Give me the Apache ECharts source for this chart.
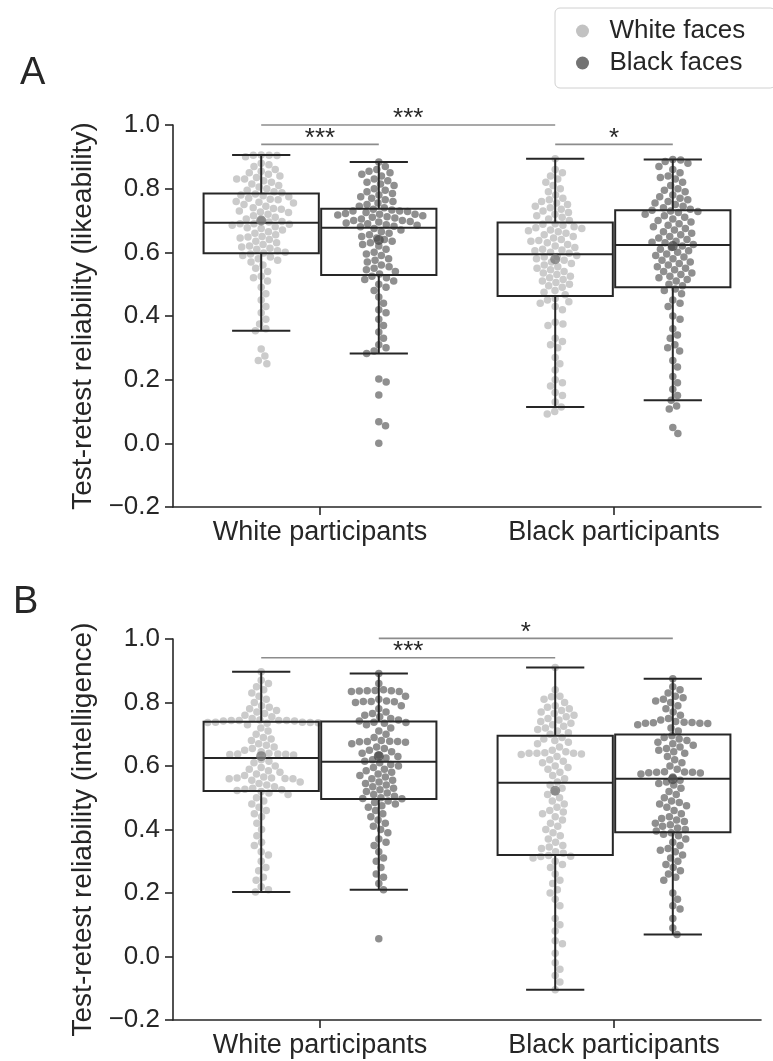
<!DOCTYPE html>
<html>
<head>
<meta charset="utf-8">
<title>Test-retest reliability</title>
<script src="https://cdn.jsdelivr.net/npm/echarts@6/dist/echarts.min.js"></script>
<style>
    html, body { margin: 0; padding: 0; background: #fff; }
    #chart { width: 773px; height: 1061px; }
</style>
</head>
<body>
<div id="chart"></div>
<script>
// Categories and hues
const categories = ['White participants', 'Black participants'];
const hues = ['White faces', 'Black faces'];

// Y axis range
const yMin = -0.2;
const yMax = 1.0;
const yStep = 0.2;

// Box stats [low whisker, q1, median, q3, high whisker]
// order: white part./white faces, white part./black faces, black part./white faces, black part./black faces
const boxLikeability = [
    [0.354, 0.597, 0.693, 0.785, 0.906],
    [0.282, 0.529, 0.677, 0.737, 0.884],
    [0.114, 0.463, 0.594, 0.694, 0.894],
    [0.135, 0.490, 0.623, 0.732, 0.892]
];
const meanLikeability = [0.700, 0.639, 0.578, 0.620];

const boxIntelligence = [
    [0.203, 0.521, 0.625, 0.739, 0.897],
    [0.210, 0.496, 0.613, 0.740, 0.891],
    [-0.105, 0.320, 0.547, 0.695, 0.910],
    [0.069, 0.391, 0.560, 0.699, 0.875]
];
const meanIntelligence = [0.631, 0.631, 0.522, 0.558];

// Significance brackets [from box, to box, height, label]
const bracketsLikeability = [[0, 2, 1.000, '***'], [0, 1, 0.939, '***'], [2, 3, 0.939, '*']];
const bracketsIntelligence = [[1, 3, 1.002, '*'], [0, 2, 0.941, '***']];

// Individual reliabilities
const likeWW = [0.906,0.905,0.905,0.904,0.90,0.88,0.875,0.87,0.86,0.855,0.85,0.845,0.84,0.835,0.83,0.83,0.825,0.82,0.815,0.81,0.805,0.80,0.795,0.79,0.787,
    0.783,0.78,0.778,0.775,0.77,0.767,0.765,0.76,0.757,0.755,0.75,0.745,0.74,0.738,0.735,0.73,0.727,0.725,0.72,0.715,0.71,0.705,0.70,0.697,0.695,
    0.69,0.69,0.688,0.685,0.68,0.677,0.675,0.67,0.665,0.66,0.655,0.65,0.648,0.645,0.64,0.635,0.63,0.625,0.62,0.617,0.613,0.61,0.605,0.60,0.598,
    0.595,0.59,0.585,0.58,0.575,0.57,0.56,0.55,0.54,0.525,0.52,0.51,0.49,0.47,0.45,0.43,0.41,0.39,0.375,0.36,0.354,0.296,0.274,0.26,0.25];
const likeWB = [0.884,0.87,0.86,0.855,0.85,0.845,0.84,0.83,0.825,0.82,0.815,0.81,0.80,0.795,0.79,0.785,0.78,0.775,0.77,0.765,0.76,0.755,0.75,0.745,0.74,
    0.735,0.733,0.73,0.73,0.728,0.725,0.722,0.72,0.72,0.717,0.715,0.712,0.71,0.708,0.705,0.70,0.70,0.697,0.695,0.692,0.69,0.687,0.685,0.682,0.68,
    0.675,0.67,0.665,0.66,0.655,0.65,0.645,0.64,0.635,0.63,0.625,0.62,0.61,0.60,0.595,0.59,0.58,0.575,0.57,0.56,0.555,0.55,0.545,0.54,0.532,
    0.525,0.52,0.515,0.51,0.50,0.49,0.48,0.46,0.44,0.42,0.41,0.39,0.37,0.35,0.33,0.31,0.30,0.29,0.282,0.202,0.193,0.152,0.068,0.055,0.0];
const likeBW = [0.894,0.86,0.85,0.84,0.83,0.82,0.81,0.80,0.79,0.78,0.77,0.765,0.76,0.755,0.75,0.745,0.74,0.735,0.73,0.725,0.72,0.715,0.71,0.705,0.70,
    0.69,0.688,0.685,0.68,0.677,0.675,0.67,0.668,0.665,0.66,0.655,0.65,0.645,0.64,0.637,0.635,0.63,0.625,0.62,0.615,0.61,0.607,0.605,0.60,0.597,
    0.59,0.587,0.585,0.58,0.575,0.57,0.565,0.56,0.555,0.55,0.545,0.54,0.535,0.53,0.525,0.52,0.515,0.51,0.505,0.50,0.495,0.49,0.48,0.475,0.467,
    0.455,0.45,0.445,0.44,0.43,0.42,0.38,0.375,0.37,0.33,0.32,0.31,0.30,0.27,0.25,0.23,0.20,0.19,0.18,0.16,0.15,0.13,0.114,0.10,0.092];
const likeBB = [0.892,0.89,0.885,0.88,0.87,0.86,0.85,0.84,0.835,0.83,0.82,0.81,0.80,0.795,0.79,0.78,0.775,0.77,0.765,0.76,0.755,0.75,0.745,0.74,0.735,
    0.732,0.73,0.728,0.725,0.72,0.715,0.71,0.705,0.70,0.695,0.69,0.685,0.68,0.675,0.67,0.665,0.66,0.655,0.65,0.645,0.64,0.635,0.632,0.63,0.625,
    0.62,0.615,0.61,0.605,0.60,0.595,0.59,0.585,0.58,0.575,0.57,0.565,0.56,0.555,0.55,0.545,0.54,0.535,0.53,0.525,0.52,0.515,0.51,0.50,0.495,
    0.485,0.48,0.47,0.45,0.44,0.43,0.40,0.39,0.36,0.34,0.33,0.31,0.30,0.29,0.26,0.24,0.21,0.19,0.17,0.15,0.135,0.117,0.108,0.05,0.031];

const intelWW = [0.897,0.87,0.86,0.85,0.84,0.83,0.82,0.81,0.80,0.79,0.785,0.78,0.775,0.77,0.765,0.76,0.755,0.75,0.745,0.743,0.743,0.743,0.743,0.742,0.742,
    0.738,0.738,0.737,0.737,0.736,0.735,0.73,0.72,0.71,0.70,0.69,0.685,0.68,0.67,0.665,0.66,0.655,0.65,0.645,0.64,0.638,0.638,0.637,0.636,0.635,
    0.62,0.615,0.61,0.60,0.595,0.59,0.585,0.58,0.575,0.57,0.565,0.562,0.562,0.561,0.56,0.56,0.555,0.55,0.545,0.54,0.535,0.53,0.527,0.525,0.523,
    0.52,0.515,0.51,0.50,0.49,0.48,0.47,0.46,0.45,0.44,0.42,0.40,0.38,0.36,0.35,0.33,0.32,0.30,0.28,0.27,0.25,0.24,0.22,0.21,0.203];
const intelWB = [0.891,0.86,0.84,0.838,0.837,0.837,0.836,0.835,0.835,0.82,0.81,0.805,0.803,0.803,0.802,0.80,0.79,0.78,0.77,0.765,0.76,0.755,0.75,0.745,0.742,
    0.738,0.737,0.735,0.73,0.72,0.71,0.70,0.69,0.68,0.678,0.677,0.677,0.676,0.675,0.67,0.66,0.655,0.65,0.645,0.64,0.635,0.63,0.625,0.62,0.615,
    0.61,0.605,0.60,0.595,0.59,0.585,0.58,0.575,0.57,0.565,0.56,0.555,0.55,0.545,0.54,0.535,0.53,0.525,0.52,0.515,0.51,0.505,0.50,0.498,0.497,
    0.49,0.485,0.48,0.475,0.47,0.46,0.45,0.44,0.43,0.42,0.41,0.40,0.39,0.37,0.36,0.35,0.33,0.31,0.30,0.28,0.26,0.25,0.23,0.21,0.056];
const intelBW = [0.91,0.84,0.82,0.818,0.81,0.80,0.79,0.785,0.78,0.775,0.77,0.765,0.76,0.755,0.75,0.745,0.74,0.735,0.73,0.725,0.72,0.715,0.71,0.705,0.70,
    0.69,0.685,0.68,0.675,0.67,0.66,0.65,0.645,0.642,0.64,0.64,0.64,0.638,0.636,0.63,0.62,0.615,0.61,0.60,0.595,0.59,0.58,0.57,0.56,0.55,
    0.54,0.53,0.52,0.51,0.50,0.49,0.48,0.47,0.46,0.455,0.45,0.44,0.43,0.42,0.41,0.40,0.39,0.38,0.37,0.36,0.35,0.345,0.34,0.33,0.325,
    0.318,0.316,0.315,0.31,0.30,0.29,0.28,0.26,0.24,0.23,0.21,0.20,0.18,0.16,0.12,0.10,0.08,0.05,0.04,0.01,-0.02,-0.04,-0.06,-0.08,-0.105];
const intelBB = [0.875,0.85,0.84,0.83,0.82,0.815,0.81,0.805,0.80,0.79,0.78,0.77,0.76,0.75,0.745,0.74,0.738,0.737,0.736,0.735,0.735,0.734,0.73,0.72,0.71,
    0.695,0.69,0.685,0.68,0.675,0.67,0.665,0.66,0.655,0.65,0.645,0.64,0.63,0.62,0.61,0.60,0.59,0.582,0.581,0.58,0.58,0.579,0.578,0.575,0.565,
    0.555,0.55,0.545,0.54,0.53,0.52,0.51,0.50,0.49,0.485,0.48,0.475,0.47,0.46,0.45,0.44,0.435,0.43,0.425,0.42,0.415,0.41,0.405,0.40,0.395,
    0.39,0.385,0.38,0.37,0.36,0.35,0.34,0.335,0.33,0.32,0.31,0.30,0.29,0.28,0.27,0.26,0.25,0.24,0.20,0.18,0.16,0.15,0.12,0.09,0.069];

// Styling
const FONT = '"Liberation Sans", Arial, sans-serif';
const INK = '#262626';
const DOT_COLORS = ['#cbcbcb', '#8f8f8f'];
const MEAN_COLORS = ['#7a7a7a', '#4d4d4d'];
const BOX_X = [-0.2, 0.2, 0.8, 1.2];   // dodge positions on the hidden value axis
const BOX_HALF = 0.196;
const CAP_HALF = 0.099;
const DOT_SIZE = 7.5;
const DOT_GAP = 7.9;

const panels = [
    { letter: 'A', title: 'Test-retest reliability (likeability)', top: 125, height: 382,
      box: boxLikeability, mean: meanLikeability, brackets: bracketsLikeability,
      points: [likeWW, likeWB, likeBW, likeBB] },
    { letter: 'B', title: 'Test-retest reliability (intelligence)', top: 639, height: 381,
      box: boxIntelligence, mean: meanIntelligence, brackets: bracketsIntelligence,
      points: [intelWW, intelWB, intelBW, intelBB] }
];

const chart = echarts.init(document.getElementById('chart'));

// Beeswarm placement: pixel offsets, closest to the centre without overlap
function swarmOffsets(yPx) {
    const order = yPx.map((y, i) => i).sort((a, b) => yPx[a] - yPx[b]);
    const placed = [];
    const out = new Array(yPx.length);
    order.forEach(i => {
        const y = yPx[i];
        const near = placed.filter(p => Math.abs(p.y - y) < DOT_GAP);
        const cands = [0];
        near.forEach(p => {
            const dx = Math.sqrt(DOT_GAP * DOT_GAP - (p.y - y) * (p.y - y));
            cands.push(p.x + dx, p.x - dx);
        });
        cands.sort((a, b) => Math.abs(a) - Math.abs(b));
        const best = cands.find(c => near.every(p =>
            (p.x - c) * (p.x - c) + (p.y - y) * (p.y - y) >= DOT_GAP * DOT_GAP - 1e-6));
        placed.push({ x: best, y: y });
        out[i] = best;
    });
    return out;
}

function tickLabel(v) {
    const s = (Math.abs(v) < 1e-9 ? 0 : v).toFixed(1);
    return s.replace('-', '\u2212');
}

function buildOption(swarm) {
    const grid = [], xAxis = [], yAxis = [], series = [];
    const axisLine = { show: true, onZero: false, lineStyle: { color: INK, width: 1.6 } };
    const axisTick = { show: true, length: 8, lineStyle: { color: INK, width: 1.6 } };

    panels.forEach((p, pi) => {
        grid.push({ left: 173, top: p.top, width: 588, height: p.height, outerBoundsMode: 'none' });
        xAxis.push({
            type: 'category', gridIndex: pi, data: categories, boundaryGap: true, position: 'bottom',
            axisLine: axisLine,
            axisTick: { show: true, alignWithLabel: true, length: 8, lineStyle: { color: INK, width: 1.6 } },
            axisLabel: { fontSize: 27, color: INK, margin: 12, fontFamily: FONT },
            splitLine: { show: false }
        });
        xAxis.push({ type: 'value', gridIndex: pi, min: -0.5, max: 1.5, show: false,
            axisLine: { show: false, onZero: false }, splitLine: { show: false } });
        yAxis.push({
            type: 'value', gridIndex: pi, min: yMin, max: yMax, interval: yStep, position: 'left',
            name: p.title, nameLocation: 'middle', nameGap: 71,
            nameTextStyle: { fontSize: 28, color: INK, fontFamily: FONT },
            axisLine: axisLine, axisTick: axisTick,
            axisLabel: { fontSize: 26, color: INK, margin: 13, fontFamily: FONT, formatter: tickLabel },
            splitLine: { show: false }
        });

        const xi = pi * 2 + 1;
        // swarm points, one series per hue
        hues.forEach((hue, h) => {
            const data = [];
            [h, h + 2].forEach(k => {
                p.points[k].forEach((v, i) => {
                    const off = swarm ? swarm[pi][k][i] : 0;
                    data.push([BOX_X[k] + off, v]);
                });
            });
            series.push({
                name: hue, type: 'scatter', xAxisIndex: xi, yAxisIndex: pi,
                symbol: 'circle', symbolSize: DOT_SIZE, data: data, z: 2,
                itemStyle: { color: DOT_COLORS[h], opacity: 1 },
                emphasis: { disabled: true }, silent: true, animation: false
            });
        });
        // boxes
        series.push({
            type: 'custom', xAxisIndex: xi, yAxisIndex: pi, z: 3, silent: true, animation: false,
            data: p.box.map((b, k) => [BOX_X[k]].concat(b)),
            encode: { x: 0, y: [1, 2, 3, 4, 5] },
            renderItem: function (params, api) {
                const x = api.value(0);
                const lo = api.coord([x, api.value(1)]);
                const q1 = api.coord([x, api.value(2)]);
                const md = api.coord([x, api.value(3)]);
                const q3 = api.coord([x, api.value(4)]);
                const hi = api.coord([x, api.value(5)]);
                const hb = api.size([BOX_HALF, 0])[0];
                const hc = api.size([CAP_HALF, 0])[0];
                const cx = lo[0];
                const st = { stroke: INK, lineWidth: 2, fill: 'none' };
                return {
                    type: 'group', children: [
                        { type: 'rect', shape: { x: cx - hb, y: q3[1], width: 2 * hb, height: q1[1] - q3[1] }, style: st },
                        { type: 'line', shape: { x1: cx - hb, y1: md[1], x2: cx + hb, y2: md[1] }, style: st },
                        { type: 'line', shape: { x1: cx, y1: q3[1], x2: cx, y2: hi[1] }, style: st },
                        { type: 'line', shape: { x1: cx, y1: q1[1], x2: cx, y2: lo[1] }, style: st },
                        { type: 'line', shape: { x1: cx - hc, y1: hi[1], x2: cx + hc, y2: hi[1] }, style: st },
                        { type: 'line', shape: { x1: cx - hc, y1: lo[1], x2: cx + hc, y2: lo[1] }, style: st }
                    ]
                };
            }
        });
        // means
        series.push({
            type: 'scatter', xAxisIndex: xi, yAxisIndex: pi, z: 4, symbolSize: 10,
            silent: true, animation: false,
            data: p.mean.map((m, k) => ({ value: [BOX_X[k], m], itemStyle: { color: MEAN_COLORS[k % 2] } }))
        });
        // significance brackets
        const br = p.brackets;
        series.push({
            type: 'custom', xAxisIndex: xi, yAxisIndex: pi, z: 3, silent: true, animation: false, clip: false,
            data: br.map(b => [BOX_X[b[0]], b[2], BOX_X[b[1]]]),
            encode: { x: [0, 2], y: 1 },
            renderItem: function (params, api) {
                const a = api.coord([api.value(0), api.value(1)]);
                const b = api.coord([api.value(2), api.value(1)]);
                return {
                    type: 'group', children: [
                        { type: 'line', shape: { x1: a[0], y1: a[1], x2: b[0], y2: b[1] },
                          style: { stroke: '#8c8c8c', lineWidth: 1.6 } },
                        { type: 'text', x: (a[0] + b[0]) / 2, y: a[1] - 6,
                          style: { text: br[params.dataIndex][3], fill: INK, fontSize: 26, fontFamily: FONT,
                                   align: 'center', verticalAlign: 'middle' } }
                    ]
                };
            }
        });
    });

    return {
        backgroundColor: '#ffffff',
        animation: false,
        textStyle: { fontFamily: FONT },
        grid: grid, xAxis: xAxis, yAxis: yAxis, series: series,
        legend: {
            orient: 'vertical', left: 555, top: 8, selectedMode: false,
            data: [
                { name: 'White faces', icon: 'circle', itemStyle: { color: '#c2c2c2' } },
                { name: 'Black faces', icon: 'circle', itemStyle: { color: '#737373' } }
            ],
            itemWidth: 44, itemHeight: 13, itemGap: 6,
            padding: [10, 30, 12, 21],
            borderColor: '#d0d0d0', borderWidth: 1, borderRadius: 5, backgroundColor: '#fff',
            textStyle: { fontSize: 26, color: INK, fontFamily: FONT }
        },
        graphic: [
            { type: 'text', left: 20, top: 55, style: { text: 'A', fontSize: 38, fill: INK, fontFamily: FONT } },
            { type: 'text', left: 13, top: 584, style: { text: 'B', fontSize: 38, fill: INK, fontFamily: FONT } }
        ]
    };
}

chart.setOption(buildOption(null));

// second pass: lay the swarms out in pixels through the axes, then redraw
const swarm = panels.map((p, pi) => {
    const si = pi * 6; // first scatter series of the panel
    const x0 = chart.convertToPixel({ seriesIndex: si }, [0, 0])[0];
    const x1 = chart.convertToPixel({ seriesIndex: si }, [1, 0])[0];
    const pxPerUnit = x1 - x0;
    return p.points.map(vals => {
        const yPx = vals.map(v => chart.convertToPixel({ seriesIndex: si }, [0, v])[1]);
        return swarmOffsets(yPx).map(o => o / pxPerUnit);
    });
});
chart.setOption(buildOption(swarm), true);

window.addEventListener('resize', function () {
    chart.resize();
});
</script>
</body>
</html>
